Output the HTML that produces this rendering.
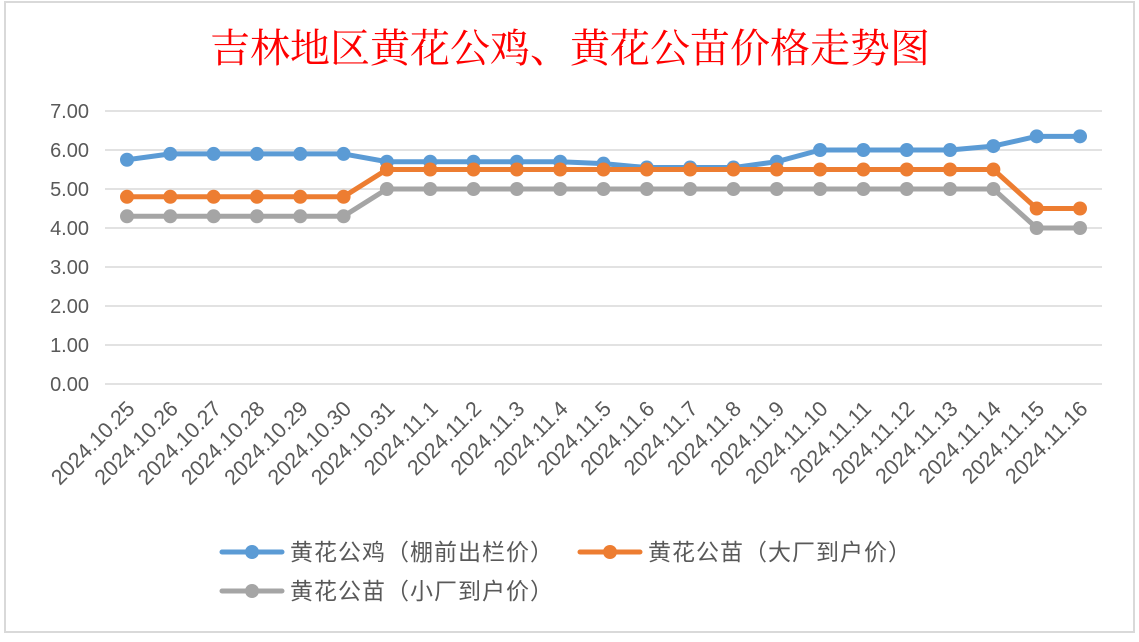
<!DOCTYPE html>
<html><head><meta charset="utf-8"><style>
body{margin:0;background:#fff;width:1139px;height:637px;overflow:hidden}
svg{font-family:"Liberation Sans","Noto Sans CJK SC",sans-serif}
</style></head><body>
<svg id="c" width="1139" height="637">
<rect x="5" y="2" width="1129" height="630" fill="#fff" stroke="#d9d9d9" stroke-width="2"/>
<text x="570" y="62" text-anchor="middle" fill="#ff0000" font-size="40" font-family="'Liberation Serif','Noto Serif CJK SC',serif">吉林地区黄花公鸡、黄花公苗价格走势图</text>
<g id="grid"></g><g id="ylab"></g><g id="xlab"></g><g id="series"></g><g id="legend"></g>
</svg>
<script>
const categories=["2024.10.25","2024.10.26","2024.10.27","2024.10.28","2024.10.29","2024.10.30","2024.10.31","2024.11.1","2024.11.2","2024.11.3","2024.11.4","2024.11.5","2024.11.6","2024.11.7","2024.11.8","2024.11.9","2024.11.10","2024.11.11","2024.11.12","2024.11.13","2024.11.14","2024.11.15","2024.11.16"];
const roosterValues=[5.75,5.9,5.9,5.9,5.9,5.9,5.7,5.7,5.7,5.7,5.7,5.65,5.55,5.55,5.55,5.7,6.0,6.0,6.0,6.0,6.1,6.35,6.35];
const bigChickValues=[4.8,4.8,4.8,4.8,4.8,4.8,5.5,5.5,5.5,5.5,5.5,5.5,5.5,5.5,5.5,5.5,5.5,5.5,5.5,5.5,5.5,4.5,4.5];
const smallChickValues=[4.3,4.3,4.3,4.3,4.3,4.3,5.0,5.0,5.0,5.0,5.0,5.0,5.0,5.0,5.0,5.0,5.0,5.0,5.0,5.0,5.0,4.0,4.0];
const yTicks=[0,1,2,3,4,5,6,7];
const seriesNames=["黄花公鸡（棚前出栏价）","黄花公苗（大厂到户价）","黄花公苗（小厂到户价）"];
const NS="http://www.w3.org/2000/svg";
function el(t,a,p){const e=document.createElementNS(NS,t);for(const k in a)e.setAttribute(k,a[k]);document.getElementById(p).appendChild(e);return e;}
const x0=127,x1=1080,left=105,right=1102;
function xs(i){return x0+i*(x1-x0)/(categories.length-1);}
function ys(v){return 384-v*39;}
yTicks.forEach(t=>{
 const g=el('line',{x1:left,x2:right,y1:ys(t),y2:ys(t),stroke:'#d9d9d9','stroke-width':1.5},'grid');
 
 
 const l=el('text',{x:89,y:ys(t)+7,'text-anchor':'end','font-size':20,fill:'#595959'},'ylab');
 l.textContent=t.toFixed(2);
 
 
});
categories.forEach((c,i)=>{
 const x=xs(i)+9,y=410;
 const l=el('text',{x:x,y:y,'text-anchor':'end','font-size':21.5,fill:'#595959',transform:`rotate(-45 ${x} ${y})`},'xlab');
 l.textContent=c;
 
 
});
const cols=['#5b9bd5','#ed7d31','#a5a5a5'];
[roosterValues,bigChickValues,smallChickValues].forEach((vals,si)=>{
 const p=el('polyline',{points:vals.map((v,i)=>xs(i)+','+ys(v)).join(' '),fill:'none',stroke:cols[si],'stroke-width':5,'stroke-linejoin':'round'},'series');
 
 
 vals.forEach((v,i)=>{
  const m=el('circle',{cx:xs(i),cy:ys(v),r:7,fill:cols[si]},'series');
  
  
 });
});
const lpos=[[222,552],[580,552],[222,591]];
seriesNames.forEach((n,i)=>{
 const [x,y]=lpos[i];
 const ln=el('line',{x1:x,x2:x+60,y1:y,y2:y,stroke:cols[i],'stroke-width':5,'stroke-linecap':'round'},'legend');
 
 
 const m=el('circle',{cx:x+30,cy:y,r:7,fill:cols[i]},'legend');
 
 
 const t=el('text',{x:x+68,y:y+8,'font-size':23,'letter-spacing':1,fill:'#595959'},'legend');
 t.textContent=n;
 
 
});
</script>
</body></html>
